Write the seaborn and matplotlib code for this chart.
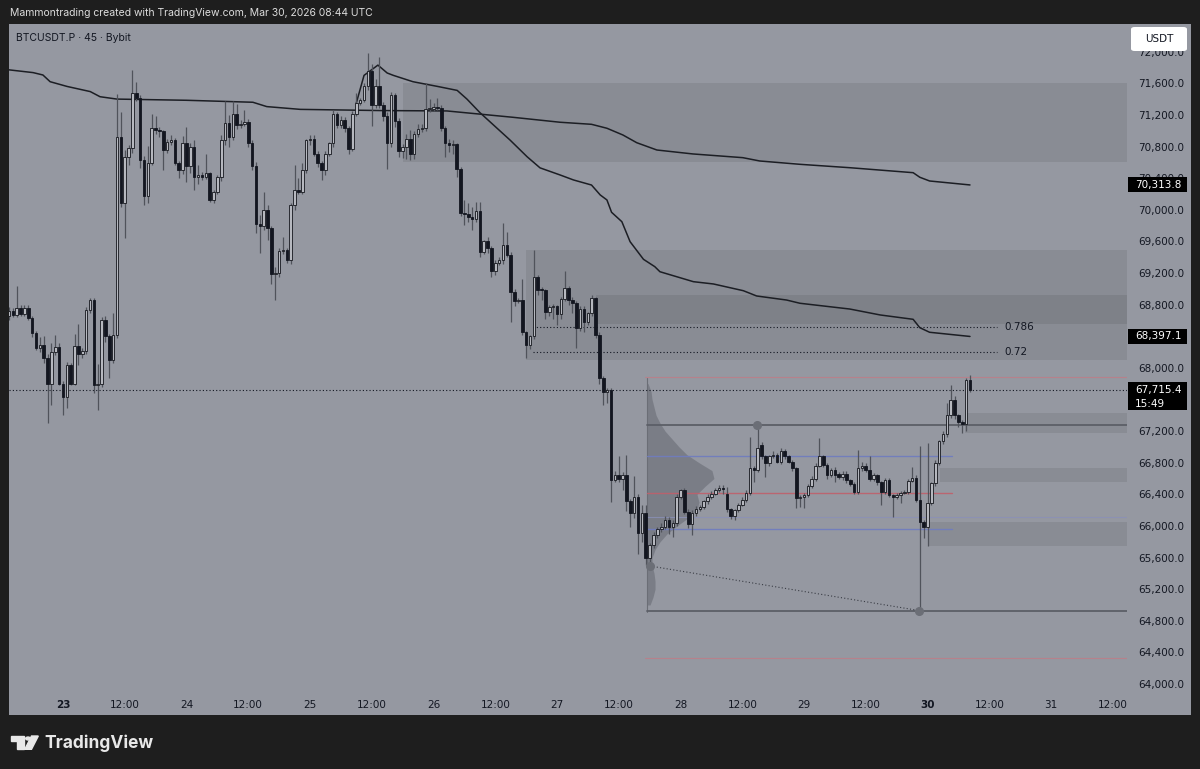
import numpy as np
import matplotlib.pyplot as plt
import seaborn as sns
from matplotlib.patches import Rectangle, FancyBboxPatch, Polygon, Circle
from matplotlib.transforms import blended_transform_factory

# BTCUSDT.P 45m bars, time in hours from Mar 23 00:00 UTC
bar_start = -10.5
bar_step = 0.75

opens = [
    68650, 68720, 68670, 68760, 68680, 68760, 68630, 68440, 68250, 68290,
    68120, 67800, 68200, 68260, 67800, 67630, 68030, 67800, 68270, 68180,
    68210, 68730, 68860, 67780, 67800, 68610, 68400, 68100, 68420, 70920,
    70080, 70670, 70780, 71480, 71410, 70630, 70170, 70590, 71030, 71010,
    70990, 70760, 70860, 70880, 70590, 70500, 70850, 70550, 70800, 70420,
    70440, 70420, 70460, 70120, 70230, 70420, 70880, 71100, 70920, 71210,
    71070, 71090, 71110, 70850, 70550, 69820, 69800, 70000, 69770, 69190,
    69200, 69480, 69490, 69370, 70060, 70250, 70230, 70500, 70880, 70900,
    70710, 70590, 70500, 70710, 70840, 71210, 71070, 71140, 71030, 70770,
    71210, 71350, 71390, 71560, 71750, 71330, 71570, 71330, 71190, 70840,
    71450, 71120, 70740, 70790, 70900, 70710, 70960, 71020, 71030, 71270,
    71280, 71300, 71290, 71040, 70840, 70820, 70830, 70520, 69960, 69940,
    69910, 69880, 69980, 69470, 69600, 69510, 69230, 69330, 69360, 69550,
    69430, 68960, 68850, 68860, 68450, 68290, 68400, 69150, 68990, 68980,
    68710, 68770, 68780, 68680, 68870, 69010, 68860, 68820, 68500, 68750,
    68580, 68690, 68880, 68420, 67870, 67690, 67720, 66580, 66640, 66600,
    66650, 66310, 66160, 66360, 65910, 66160, 65590, 65760, 65890, 65960,
    65990, 66080, 65990, 66040, 66370, 66450, 66180, 66020, 66160, 66220,
    66240, 66310, 66370, 66410, 66450, 66480, 66400, 66210, 66120, 66200,
    66270, 66330, 66420, 66730, 66710, 67020, 66880, 66790, 66880, 66900,
    66810, 66950, 66880, 66810, 66730, 66350, 66360, 66390, 66510, 66600,
    66760, 66880, 66770, 66640, 66710, 66660, 66620, 66660, 66580, 66530,
    66430, 66730, 66760, 66710, 66600, 66640, 66550, 66430, 66580, 66390,
    66360, 66390, 66420, 66430, 66570, 66610, 66330, 66050, 65990, 66290,
    66540, 66800, 67070, 67160, 67400, 67590, 67400, 67320, 67290, 67846,
]
highs = [
    68770, 68760, 69030, 68800, 68790, 68800, 68660, 68470, 68390, 68400,
    68180, 68310, 68420, 68310, 67830, 68080, 68060, 68430, 68560, 68250,
    68770, 68880, 68880, 68050, 68640, 68660, 68430, 68690, 71470, 71240,
    70760, 70820, 71770, 71620, 71450, 70680, 70810, 71210, 71180, 71050,
    71010, 70900, 70940, 70910, 70620, 70930, 71050, 70840, 70880, 70560,
    70480, 70700, 70480, 70250, 70440, 70950, 71380, 71200, 71370, 71340,
    71130, 71260, 71150, 70880, 70600, 69930, 70230, 70060, 69800, 69270,
    69520, 69660, 69520, 70080, 70560, 70400, 70590, 70900, 70950, 70940,
    70740, 70620, 70740, 70860, 71260, 71240, 71180, 71170, 71060, 71250,
    71480, 71420, 71600, 71980, 71850, 71650, 71930, 71360, 71240, 71490,
    71480, 71160, 70830, 70960, 71010, 71000, 71090, 71080, 71600, 71400,
    71350, 71410, 71320, 71060, 70890, 70880, 70850, 70540, 70120, 70090,
    70030, 70100, 70100, 69620, 69650, 69540, 69360, 69400, 69830, 69720,
    69460, 69000, 68880, 69130, 68470, 68420, 69490, 69180, 69020, 69000,
    68800, 68810, 68800, 68890, 69220, 69040, 68900, 68840, 68780, 68780,
    68710, 68920, 68900, 68450, 67900, 67740, 67740, 66700, 66890, 66680,
    66900, 66340, 66630, 66400, 66270, 66260, 65780, 65920, 65990, 66040,
    66120, 66110, 66080, 66400, 66470, 66480, 66210, 66200, 66250, 66270,
    66330, 66400, 66440, 66480, 66520, 66520, 66490, 66230, 66220, 66290,
    66360, 66450, 67120, 66760, 67280, 67060, 66900, 66900, 66950, 66920,
    66980, 66970, 66900, 66830, 66750, 66390, 66420, 66530, 66630, 66790,
    67110, 66900, 66790, 66730, 66740, 66680, 66690, 66690, 66600, 66560,
    66960, 66810, 66790, 66880, 66670, 66660, 66570, 66610, 66610, 66410,
    66420, 66440, 66460, 66600, 66740, 66640, 67010, 66070, 67050, 66560,
    66830, 67090, 67200, 67550, 67780, 67650, 67420, 67340, 67870, 67910,
]
lows = [
    68600, 68640, 68640, 68650, 68650, 68600, 68390, 68220, 68200, 68060,
    67300, 67530, 68160, 67780, 67400, 67490, 67780, 67780, 68030, 68120,
    68170, 68700, 67680, 67470, 67760, 68330, 67870, 68060, 68380, 70040,
    69640, 70560, 70720, 71380, 70530, 70060, 70080, 70560, 70960, 70920,
    70500, 70720, 70820, 70560, 70400, 70450, 70350, 70460, 70250, 70330,
    70380, 70390, 70100, 70090, 70200, 70360, 70820, 70800, 70880, 71020,
    71040, 71060, 70800, 70500, 69700, 69450, 69740, 69620, 69060, 68860,
    69150, 69440, 69330, 69320, 70000, 70200, 70200, 70460, 70820, 70680,
    70540, 70380, 70440, 70680, 70800, 71030, 71040, 70980, 70700, 70740,
    71180, 71320, 71360, 71520, 71060, 71290, 71290, 71120, 70510, 70800,
    71050, 70670, 70650, 70640, 70630, 70640, 70920, 70980, 70990, 71240,
    71250, 71260, 70990, 70670, 70730, 70700, 70420, 69920, 69810, 69840,
    69750, 69840, 69400, 69440, 69450, 69150, 69170, 69300, 69320, 69400,
    68580, 68780, 68820, 68420, 68120, 68240, 68360, 68920, 68860, 68620,
    68660, 68620, 68540, 68620, 68840, 68800, 68700, 68250, 68470, 68450,
    68540, 68650, 68380, 67800, 67530, 67560, 66300, 66550, 66560, 66460,
    66190, 65990, 66100, 65650, 65800, 65500, 65510, 65720, 65850, 65920,
    65960, 65900, 65860, 66000, 66340, 66150, 65980, 65880, 66130, 66190,
    66210, 66280, 66340, 66390, 66430, 66400, 66180, 66090, 66080, 66180,
    66250, 66300, 66390, 66560, 66680, 66850, 66620, 66760, 66860, 66790,
    66780, 66850, 66790, 66700, 66230, 66240, 66230, 66360, 66480, 66570,
    66740, 66740, 66600, 66620, 66560, 66600, 66580, 66540, 66500, 66400,
    66410, 66700, 66680, 66570, 66570, 66520, 66260, 66400, 66360, 66110,
    66340, 66290, 66400, 66400, 66550, 66300, 64930, 65850, 65740, 66260,
    66500, 66770, 67040, 67130, 67370, 67350, 67250, 67170, 67200, 67700,
]
closes = [
    68720, 68670, 68760, 68680, 68760, 68630, 68440, 68250, 68290, 68120,
    67800, 68200, 68260, 67800, 67630, 68030, 67800, 68270, 68180, 68210,
    68730, 68860, 67780, 67800, 68610, 68400, 68100, 68420, 70920, 70080,
    70670, 70780, 71480, 71410, 70630, 70170, 70590, 71030, 71010, 70990,
    70760, 70860, 70880, 70590, 70500, 70850, 70550, 70800, 70420, 70440,
    70420, 70460, 70120, 70230, 70420, 70880, 71100, 70920, 71210, 71070,
    71090, 71110, 70850, 70550, 69820, 69800, 70000, 69770, 69190, 69200,
    69480, 69490, 69370, 70060, 70250, 70230, 70500, 70880, 70900, 70710,
    70590, 70500, 70710, 70840, 71210, 71070, 71140, 71030, 70770, 71210,
    71350, 71390, 71560, 71750, 71330, 71570, 71330, 71190, 70840, 71450,
    71120, 70740, 70790, 70900, 70710, 70960, 71020, 71030, 71270, 71280,
    71300, 71290, 71040, 70840, 70820, 70830, 70520, 69960, 69940, 69910,
    69880, 69980, 69470, 69600, 69510, 69230, 69330, 69360, 69550, 69430,
    68960, 68850, 68860, 68450, 68290, 68400, 69150, 68990, 68980, 68710,
    68770, 68780, 68680, 68870, 69010, 68860, 68820, 68500, 68750, 68580,
    68690, 68880, 68420, 67870, 67690, 67720, 66580, 66640, 66600, 66650,
    66310, 66160, 66360, 65910, 66160, 65590, 65760, 65890, 65960, 65990,
    66080, 65990, 66040, 66370, 66450, 66180, 66020, 66160, 66220, 66240,
    66310, 66370, 66410, 66450, 66480, 66470, 66210, 66120, 66200, 66270,
    66330, 66420, 66730, 66710, 66990, 66880, 66790, 66880, 66900, 66810,
    66950, 66880, 66810, 66730, 66350, 66360, 66390, 66510, 66600, 66760,
    66880, 66770, 66640, 66710, 66640, 66620, 66660, 66580, 66530, 66430,
    66730, 66760, 66710, 66600, 66640, 66550, 66430, 66580, 66390, 66360,
    66390, 66420, 66430, 66570, 66610, 66330, 66050, 65990, 66290, 66540,
    66800, 67070, 67160, 67400, 67590, 67400, 67320, 67290, 67846, 67715.4,
]

# slow average (upper curve) and anchored vwap from the top (lower curve)
slow_t = [-10.5, -5.8, -3.9, -2.5, 0.8, 5.3, 7.2, 10.5, 24, 36.9, 39.6, 46.1,
          61.6, 74.6, 87.4, 96.6, 102.7, 105.7, 108.8, 111.5, 115.4, 122.4,
          132.1, 135.4, 143.2, 152.9, 165.2, 166.5, 168.4, 176.25]
slow_p = [71770, 71735, 71705, 71620, 71560, 71495, 71430, 71400, 71385, 71360,
          71305, 71270, 71255, 71250, 71170, 71107, 71081, 71031, 70946, 70848,
          70756, 70706, 70659, 70617, 70575, 70532, 70469, 70411, 70364, 70313.8]
avwap_t = [57.0, 58.5, 61.2, 63.0, 64.2, 68.0, 72.8, 76.6, 78.5, 81.0, 86.9,
           90.2, 92.7, 96.6, 99.2, 102.7, 104.4, 105.7, 106.6, 108.6, 110.2,
           112.8, 115.0, 116.0, 122.5, 126.4, 132.2, 134.8, 140.6, 143.2, 152.9,
           158.8, 165.2, 166.5, 168.4, 176.25]
avwap_p = [71350, 71700, 71830, 71730, 71700, 71620, 71560, 71510, 71400, 71230,
           70880, 70670, 70530, 70440, 70377, 70313, 70187, 70124, 69968, 69849,
           69596, 69373, 69280, 69216, 69090, 69061, 68976, 68909, 68858, 68817,
           68744, 68669, 68614, 68508, 68450, 68397.1]

# shaded zones: start time, low, high
zone_start = [66.0, 90.0, 103.5, 175.3, 170.4, 168.1]
zone_low = [70600, 68100, 68560, 67180, 66560, 65740]
zone_high = [71600, 69490, 68920, 67430, 66730, 66050]

# fib levels
fib_names = ["0.786", "0.72"]
fib_prices = [68513, 68204]
fib_from, fib_to = 91.3, 181.5

# volume profile of the range from the low
profile_start = 113.5
profile_prices = [67800, 67700, 67600, 67500, 67400, 67300, 67200, 67100, 67000,
                  66900, 66800, 66700, 66600, 66500, 66400, 66300, 66200, 66100,
                  66000, 65900, 65800, 65700, 65600, 65500, 65400, 65300, 65200,
                  65100, 65000]
profile_vol = [1, 4, 5, 7, 9, 13, 18, 25, 32, 40, 52, 65, 67, 58, 50, 52, 50, 41,
               30, 20, 13, 8, 5, 5, 7, 8, 8, 6, 3]
poc_price = 66420
vah_price, val_price = 66890, 65960
range_high, range_low = 67880, 64330
eq_level = 66110

# horizontal levels with anchor dots
level_prices = [67277, 64930]
anchor_t = [134.9, 166.3, 114.1]
anchor_p = [67277, 64930, 65493]

last_price = 67715.4
slow_last = 70313.8
vwap_last = 68397.1

W, H = 1200, 769
panel = "#9598a1"
ink = "#131722"

sns.set_theme(style="white")
plt.rcParams["font.family"] = ["DejaVu Sans"]

fig = plt.figure(figsize=(W / 100, H / 100), dpi=100, facecolor="#1e1e1e")
fig.patches.append(Rectangle((9 / W, 1 - 715 / H), 1182 / W, 691 / H,
                             transform=fig.transFigure, facecolor=panel,
                             edgecolor="none", zorder=-5))
ax = fig.add_axes([9 / W, 1 - 692 / H, 1118 / W, 668 / H])
ax.set_facecolor("none")
xl, xr = -10.49, 206.76
ax.set_xlim(xl, xr)
ax.set_ylim(63899, 72350)
for s in ax.spines.values():
    s.set_visible(False)
ax.grid(False)

# zones
for s0, lo, hi in zip(zone_start, zone_low, zone_high):
    ax.add_patch(Rectangle((s0, lo), xr - s0, hi - lo, facecolor="black",
                           alpha=0.08, lw=0, zorder=1))

# fib lines
for name, p in zip(fib_names, fib_prices):
    ax.plot([fib_from, fib_to], [p, p], color=ink, lw=0.8, ls=(0, (1, 2)), zorder=2)
    ax.text(fib_to + 1.4, p, name, va="center", ha="left", fontsize=7.5, color=ink)

# volume profile
prof_w = np.array(profile_vol) / max(profile_vol) * 13.0
ax.fill_betweenx(profile_prices, profile_start, profile_start + prof_w,
                 color="#696c75", alpha=0.6, lw=0, zorder=2)
ax.plot([profile_start, profile_start], [64915, 67870], color="#6b6e76", lw=0.8, zorder=2)
ax.plot([113.1, xr], [range_high] * 2, color="#c07c86", lw=0.8, alpha=0.8, zorder=2)
ax.plot([113.1, xr], [range_low] * 2, color="#c07c86", lw=0.8, alpha=0.8, zorder=2)
ax.plot([profile_start, 172.7], [poc_price] * 2, color="#c0606b", lw=1.0, alpha=0.9, zorder=2)
ax.plot([profile_start, 172.7], [vah_price] * 2, color="#6f7cc0", lw=1.0, alpha=0.9, zorder=2)
ax.plot([profile_start, 172.7], [val_price] * 2, color="#6f7cc0", lw=1.0, alpha=0.9, zorder=2)
ax.plot([profile_start, xr], [eq_level] * 2, color="#8a90b8", lw=0.8, alpha=0.8, zorder=2)

# support / resistance drawings
for p in level_prices:
    ax.plot([profile_start, xr], [p, p], color="#5c5f67", lw=1.3, zorder=2)
ax.plot([anchor_t[2], anchor_t[1]], [anchor_p[2], anchor_p[1]], color="#3a3d45",
        lw=0.8, ls=(0, (1, 2)), zorder=2)

# current price line
ax.plot([xl, xr], [last_price] * 2, color=ink, lw=0.8, ls=(0, (1, 2)), zorder=2)

# moving averages
sns.lineplot(x=slow_t, y=slow_p, ax=ax, color="#1c1e24", linewidth=1.1, sort=False, zorder=3)
sns.lineplot(x=avwap_t, y=avwap_p, ax=ax, color="#1c1e24", linewidth=1.1, sort=False, zorder=3)

# candles
o = np.array(opens, dtype=float)
h = np.array(highs, dtype=float)
l = np.array(lows, dtype=float)
c = np.array(closes, dtype=float)
t = bar_start + bar_step * np.arange(len(c))
up = c >= o
ax.vlines(t, l, h, color="#50535b", lw=0.9, zorder=4)
body = np.maximum(np.abs(c - o), 14)
ax.bar(t[up], body[up], bottom=o[up], width=0.5, color="#b6b8bf",
       edgecolor="#15171d", linewidth=0.6, zorder=5)
ax.bar(t[~up], body[~up], bottom=c[~up], width=0.5, color="#131620",
       edgecolor="#131620", linewidth=0.6, zorder=5)

ax.plot(anchor_t, anchor_p, "o", color="#6b6e76", ms=5.5, zorder=6)

# axes labels
day_ticks = np.arange(0, 205, 12)
day_labels = ["23", "12:00", "24", "12:00", "25", "12:00", "26", "12:00", "27",
              "12:00", "28", "12:00", "29", "12:00", "30", "12:00", "31", "12:00"]
ax.set_xticks(day_ticks)
ax.set_xticklabels(day_labels)
# 68,400 and 67,600 sit under the price tags, as on the original
price_ticks = [v for v in range(64000, 72001, 400) if v not in (68400, 67600)]
ax.set_yticks(price_ticks)
ax.set_yticklabels([f"{v:,.1f}" for v in price_ticks])
ax.yaxis.tick_right()
ax.tick_params(axis="y", length=0, pad=8, labelsize=7.5, labelcolor=ink)
ax.tick_params(axis="x", length=0, pad=6, labelsize=7.5, labelcolor=ink)
for lab in ax.get_xticklabels():
    if lab.get_text() in ("23", "30"):
        lab.set_fontweight("bold")

# price tags on the scale
tr = blended_transform_factory(ax.transAxes, ax.transData)
px = 12.652
for val in (slow_last, vwap_last):
    ax.add_patch(Rectangle((1.0009, val - 7.5 * px), 0.0528, 15 * px, transform=tr,
                           facecolor="black", lw=0, clip_on=False, zorder=10))
    ax.text(1.0072, val, f"{val:,.1f}", transform=tr, color="white", va="center",
            fontsize=7.5, clip_on=False, zorder=11)
ax.add_patch(Rectangle((1.0009, last_price - 20 * px), 0.0528, 28 * px, transform=tr,
                       facecolor="black", lw=0, clip_on=False, zorder=10))
ax.text(1.0072, last_price, f"{last_price:,.1f}", transform=tr, color="white",
        va="center", fontsize=7.5, clip_on=False, zorder=11)
ax.text(1.0072, last_price - 13.5 * px, "15:49", transform=tr, color="white",
        va="center", fontsize=7.5, clip_on=False, zorder=11)

# USDT button
fig.patches.append(FancyBboxPatch((1131 / W, 1 - 51 / H), 56 / W, 24 / H,
                                  boxstyle="round,pad=0,rounding_size=0.003",
                                  transform=fig.transFigure, facecolor="white",
                                  edgecolor="none", zorder=5))
fig.text(1159 / W, 1 - 39 / H, "USDT", ha="center", va="center", fontsize=7.5,
         color=ink, zorder=6)

# header texts
fig.text(10 / W, 1 - 13 / H, "Mammontrading created with TradingView.com, Mar 30, 2026 08:44 UTC",
         color="#dcdcdc", fontsize=7.5, va="center", family=["Inter", "DejaVu Sans"])
fig.text(16 / W, 1 - 38 / H, "BTCUSDT.P · 45 · Bybit", color=ink, fontsize=7.5,
         va="center", family=["Inter", "DejaVu Sans"])

# TradingView logo
logo = "#e8e8e8"
fig.patches.append(Polygon([(10.7 / W, 1 - 736 / H), (23.7 / W, 1 - 736 / H),
                            (23.7 / W, 1 - 749.3 / H), (17.2 / W, 1 - 749.3 / H),
                            (17.2 / W, 1 - 740.5 / H), (10.7 / W, 1 - 740.5 / H)],
                           closed=True, transform=fig.transFigure, color=logo, zorder=5))
fig.patches.append(Circle((28 / W, 1 - 738.5 / H), 2.3 / W, transform=fig.transFigure,
                          color=logo, zorder=5))
fig.patches.append(Polygon([(31.5 / W, 1 - 736 / H), (38.3 / W, 1 - 736 / H),
                            (31.5 / W, 1 - 749.3 / H), (24.8 / W, 1 - 749.3 / H)],
                           closed=True, transform=fig.transFigure, color=logo, zorder=5))
fig.text(44 / W, 1 - 743 / H, "TradingView", color=logo, fontsize=12.5,
         fontweight="bold", va="center", family=["Inter", "DejaVu Sans"])

fig.savefig("out.png", dpi=100, facecolor=fig.get_facecolor())
